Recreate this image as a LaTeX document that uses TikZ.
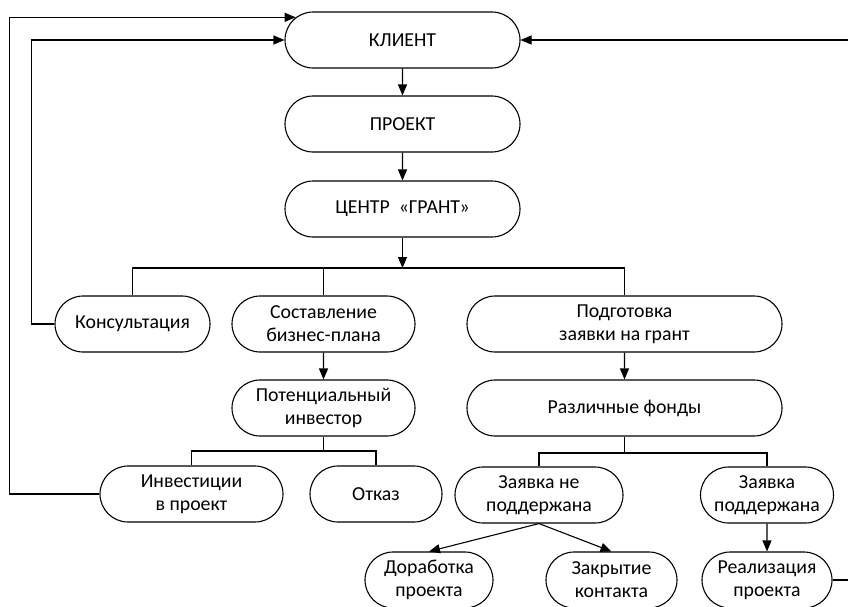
\documentclass[tikz,border=0pt]{standalone}
\usepackage{fontspec}
\setmainfont{Carlito}
\usetikzlibrary{shapes.misc,arrows.meta}
\begin{document}
\begin{tikzpicture}[x=1pt,y=-1pt,
  box/.style={draw, line width=1.1pt, rounded rectangle, align=center,
    font=\fontsize{19.8}{23}\selectfont, inner sep=0pt, minimum height=56pt},
  link/.style={line width=1.1pt},
  arrow/.style={link, -{Triangle[length=11pt,width=9pt]}}]
\useasboundingbox (0,0) rectangle (848,606);

% main chain
\node[box, minimum width=235pt] (klient) at (402.5,40) {КЛИЕНТ};
\node[box, minimum width=235pt] (proj)   at (402.5,124) {ПРОЕКТ};
\node[box, minimum width=235pt] (centr)  at (402.5,209) {ЦЕНТР \ «ГРАНТ»};

% services
\node[box, minimum width=155pt] (kons) at (132.5,324) {Консультация};
\node[box, minimum width=183pt] (bizn) at (323.5,324) {Составление\\бизнес-плана};
\node[box, minimum width=315pt] (podg) at (624.5,324) {Подготовка\\заявки на грант};

% business-plan branch
\node[box, minimum width=183pt] (pot) at (323.5,408) {Потенциальный\\инвестор};
\node[box, minimum width=183pt] (inv) at (191.5,494) {Инвестиции\\в проект};
\node[box, minimum width=132pt] (otk) at (376,494) {Отказ};

% grant branch
\node[box, minimum width=315pt] (fond)   at (624.5,408) {Различные фонды};
\node[box, minimum width=168pt] (nesupp) at (539,495) {Заявка не\\поддержана};
\node[box, minimum width=133pt] (supp)   at (767,495) {Заявка\\поддержана};
\node[box, minimum width=128pt] (dor)    at (429,580) {Доработка\\проекта};
\node[box, minimum width=131pt] (zak)    at (611.5,580) {Закрытие\\контакта};
\node[box, minimum width=130pt] (real)   at (767,580) {Реализация\\проекта};

% branching points
\coordinate (bus1) at (402.5,268);
\coordinate (bus2) at (323.5,451);
\coordinate (bus3) at (624.5,453);

% connectors
\draw[arrow] (klient) -- (proj);
\draw[arrow] (proj) -- (centr);
\draw[arrow] (centr) -- (bus1);
\draw[link] (kons.north) |- (bus1) -| (podg.north);
\draw[link] (bizn.north) -- (bizn.north |- bus1);

\draw[arrow] (bizn) -- (pot);
\draw[link] (pot.south) -- (bus2);
\draw[link] (inv.north) |- (bus2) -| (otk.north);

\draw[arrow] (podg) -- (fond);
\draw[link] (fond.south) -- (bus3);
\draw[link] (nesupp.north) |- (bus3) -| (supp.north);
\draw[arrow] (supp) -- (real);
\draw[arrow] (nesupp.south) -- (dor.north);
\draw[arrow] (nesupp.south) -- (zak.north);

% feedback to the client
\draw[arrow] (kons.west) -- ++(-23,0) |- (klient.west);
\draw[arrow] (inv.west) -- ++(-90,0) |- (klient.168);
\draw[arrow] (real.east) -- ++(16,0) |- (klient.east);
\end{tikzpicture}
\end{document}
